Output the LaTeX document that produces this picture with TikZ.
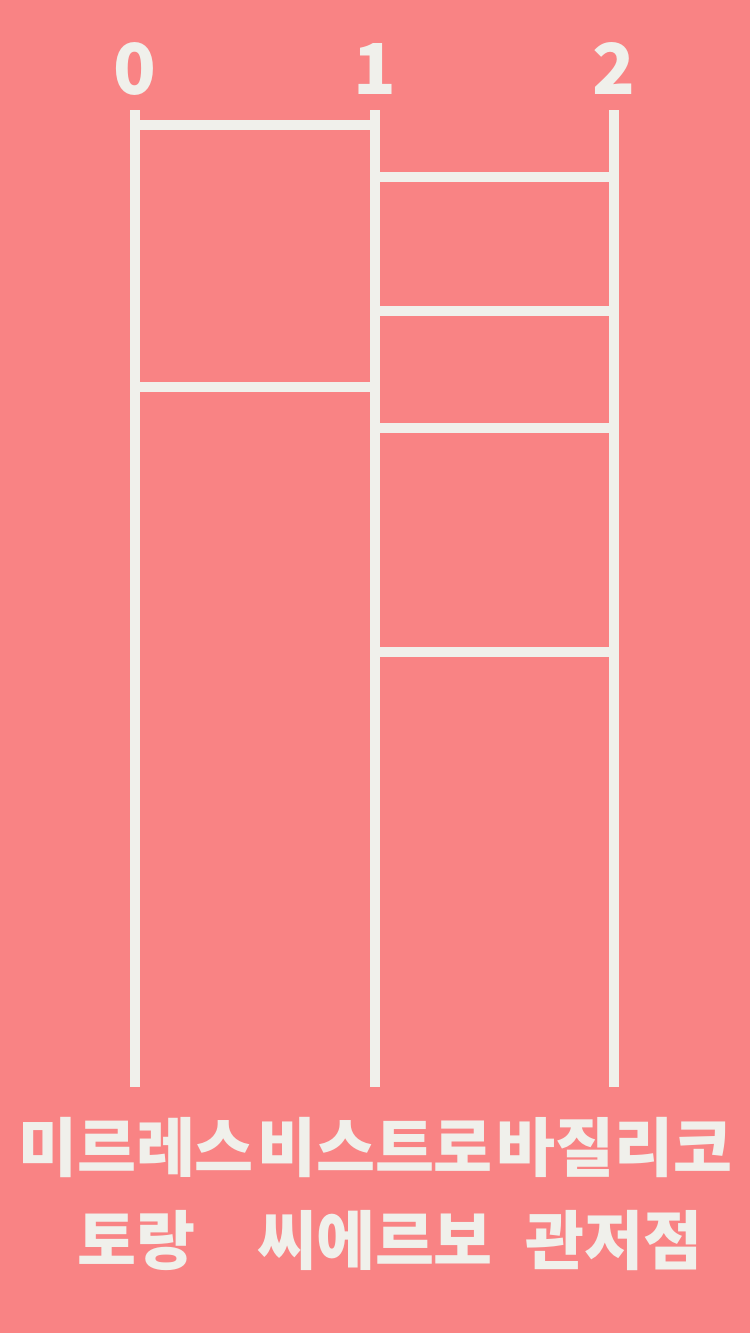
\documentclass[tikz,border=0pt]{standalone}
\usepackage{fontspec}
\newfontfamily\krfont{Noto Sans CJK KR}
\usetikzlibrary{calc}
\definecolor{salmon}{RGB}{249,131,132}
\definecolor{chalk}{RGB}{240,240,235}
\tikzset{
  rail/.style   = {line width=5.7pt, chalk},
  rung/.style   = {line width=5.7pt, chalk},
  tick/.style   = {font=\krfont\bfseries\fontsize{40}{40}\selectfont, text=chalk,
                   inner sep=0pt},
  shop/.style   = {font=\krfont\bfseries\fontsize{36.5}{53}\selectfont, text=chalk,
                   align=center, inner sep=0pt},
}
\begin{document}
\begin{tikzpicture}[x=0.02cm,y=-0.02cm]
  \fill[salmon] (0,0) rectangle (750,1333);
  \useasboundingbox (0,0) rectangle (750,1333);
  \foreach \i/\x in {0/135, 1/375, 2/614}
     {\node[tick,anchor=base] (d\i) at (\x,94) {\i};
      \coordinate (top\i) at (\x,110);
      \coordinate (bot\i) at (\x,1087);
      \draw[rail] (top\i) -- (bot\i);}
  % rungs between 0 and 1
  \foreach \y in {125, 387}
     {\draw[rung] (top0 |- 0,\y) -- (top1 |- 0,\y);}
  % rungs between 1 and 2
  \foreach \y in {177, 311, 428, 652}
     {\draw[rung] (top1 |- 0,\y) -- (top2 |- 0,\y);}
  \node[shop,anchor=north] (s0) at (136,1117) {미르레스\\토랑};
  \node[shop,anchor=north] (s1) at (375,1117) {비스트로\\씨에르보};
  \node[shop,anchor=north] (s2) at (614,1117) {바질리코\\관저점};
\end{tikzpicture}
\end{document}
